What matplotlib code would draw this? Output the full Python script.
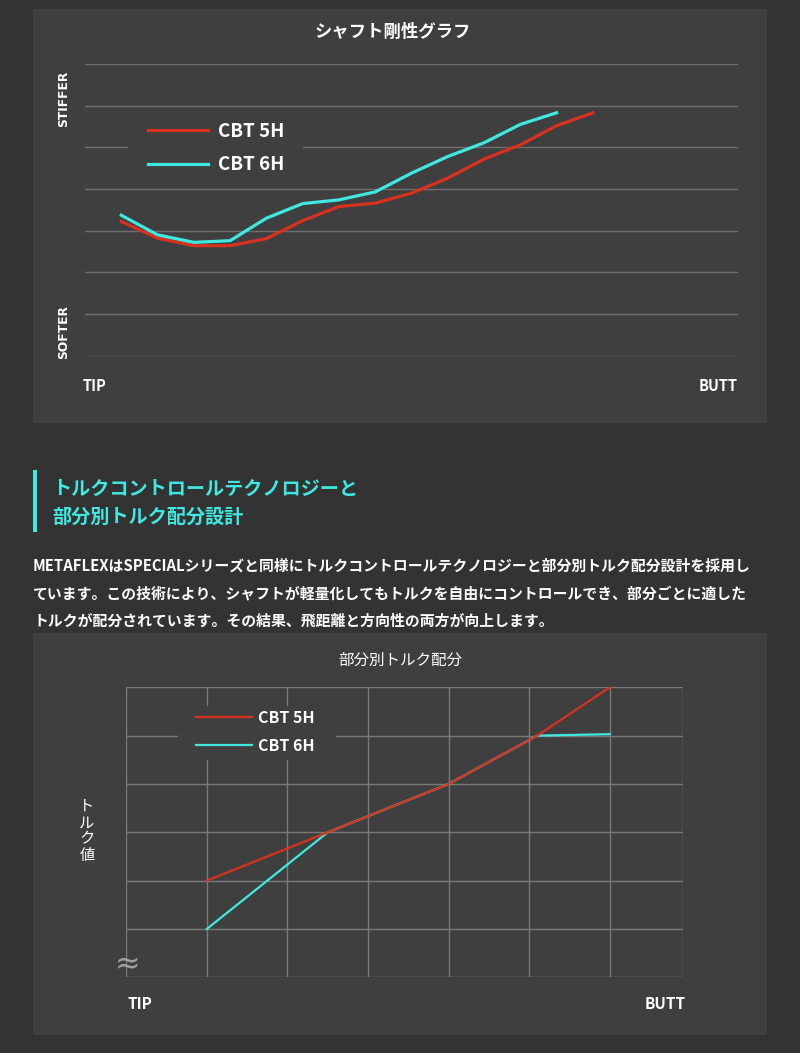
import matplotlib.pyplot as plt
from matplotlib.patches import Rectangle

plt.rcParams['font.family'] = ['Noto Sans CJK JP', 'DejaVu Sans']

# --- data -------------------------------------------------------------
stiff_pos = list(range(14))
stiff_5h = [3.22, 2.82, 2.64, 2.64, 2.81, 3.24, 3.58, 3.66, 3.90, 4.26, 4.72, 5.06, 5.52, 5.83]
stiff_6h = [3.37, 2.90, 2.72, 2.76, 3.30, 3.65, 3.74, 3.93, 4.38, 4.78, 5.11, 5.55, 5.83]

torque_pos = [1, 2.5, 4, 5.1, 6]
torque_5h = [2, 3, 4, 5, 6]
torque_6h = [1, 3, 4, 5, 5.03]

series_names = ['CBT 5H', 'CBT 6H']

heading = ['トルクコントロールテクノロジーと', '部分別トルク配分設計']
body = ['METAFLEXはSPECIALシリーズと同様にトルクコントロールテクノロジーと部分別トルク配分設計を採用し',
        'ています。この技術により、シャフトが軽量化してもトルクを自由にコントロールでき、部分ごとに適した',
        'トルクが配分されています。その結果、飛距離と方向性の両方が向上します。']

# --- style ------------------------------------------------------------
W, H = 800, 1053
PAGE = '#333333'
PANEL = '#3f3f3f'
RED = '#d8321e'
CYAN = '#3fe8e0'


def fx(x):
    return x / W


def fy(y):
    return 1 - y / H


def box(x0, y0, x1, y1):
    return [fx(x0), fy(y1), (x1 - x0) / W, (y1 - y0) / H]


def mask(ax, x0, y0, x1, y1):
    # panel-coloured block that hides the grid behind the legend
    ax.add_patch(Rectangle((fx(x0), fy(y1)), (x1 - x0) / W, (y1 - y0) / H,
                           transform=fig.transFigure, facecolor=PANEL,
                           edgecolor='none', zorder=2, clip_on=False))


fig = plt.figure(figsize=(W / 100, H / 100), dpi=100, facecolor=PAGE)

# panels
for (x0, y0, x1, y1) in [(33, 9, 767, 423), (33, 633, 767, 1035)]:
    fig.patches.append(Rectangle((fx(x0), fy(y1)), (x1 - x0) / W, (y1 - y0) / H,
                                 transform=fig.transFigure, facecolor=PANEL,
                                 edgecolor='none', zorder=-5))

# ---------------- top chart: stiffness ----------------
ax1 = fig.add_axes(box(85, 64, 738, 355.7))
ax1.set_facecolor('none')
ax1.set_xlim(-1, 17)
ax1.set_ylim(0, 7)
for v in range(8):
    ax1.axhline(v, color='#6e6e6e', lw=1, zorder=1)
ax1.plot(stiff_pos, stiff_5h, color=RED, lw=2.3, zorder=3, label=series_names[0])
ax1.plot(stiff_pos[:len(stiff_6h)], stiff_6h, color=CYAN, lw=2.3, zorder=3, label=series_names[1])
ax1.axis('off')
mask(ax1, 128, 112, 303, 182)
leg1 = ax1.legend(loc='upper left', bbox_to_anchor=(fx(148), fy(122)),
                  bbox_transform=fig.transFigure, frameon=False, borderpad=0,
                  borderaxespad=0, handlelength=3.2, handletextpad=0.55,
                  labelspacing=0.75, prop={'size': 13.5, 'weight': 'bold'})
for t in leg1.get_texts():
    t.set_color('white')
leg1.set_zorder(5)

fig.text(fx(393), fy(32), 'シャフト剛性グラフ', color='white', fontsize=12.5,
         fontweight='bold', ha='center', va='center')
fig.text(fx(64), fy(99), 'STIFFER', color='white', fontsize=8.8, fontweight='bold',
         rotation=90, ha='center', va='center', family='DejaVu Sans')
fig.text(fx(64), fy(332), 'SOFTER', color='white', fontsize=8.8, fontweight='bold',
         rotation=90, ha='center', va='center', family='DejaVu Sans')
fig.text(fx(83), fy(386), 'TIP', color='white', fontsize=10.5, fontweight='bold',
         ha='left', va='center')
fig.text(fx(738), fy(386), 'BUTT', color='white', fontsize=10.5, fontweight='bold',
         ha='right', va='center')

# ---------------- text section ----------------
fig.patches.append(Rectangle((fx(33), fy(532)), 4 / W, 62 / H, transform=fig.transFigure,
                             facecolor=CYAN, edgecolor='none'))
for i, line in enumerate(heading):
    fig.text(fx(52), fy(489 + i * 28), line, color=CYAN, fontsize=13.8,
             fontweight='bold', ha='left', va='center')
for i, line in enumerate(body):
    fig.text(fx(33), fy(566 + i * 27.5), line, color='white', fontsize=10.7,
             fontweight='bold', ha='left', va='center')

# ---------------- bottom chart: torque ----------------
ax2 = fig.add_axes(box(126.3, 687.3, 683, 977.3))
ax2.set_facecolor('none')
ax2.set_xlim(0, 6.91)
ax2.set_ylim(0, 6)
for v in range(7):
    ax2.axvline(v, color='#7a7a7a', lw=1, zorder=1)
    ax2.axhline(v, color='#7a7a7a', lw=1, zorder=1)
ax2.axvline(6.91, color='#7a7a7a', lw=1, zorder=1)
ax2.plot(torque_pos, torque_6h, color=CYAN, lw=1.6, zorder=3, label=series_names[1])
ax2.plot(torque_pos, torque_5h, color=RED, lw=1.6, zorder=4, label=series_names[0])
ax2.axis('off')
mask(ax2, 178, 706, 336, 760)
handles, labels = ax2.get_legend_handles_labels()
leg2 = ax2.legend(handles[::-1], labels[::-1], loc='upper left',
                  bbox_to_anchor=(fx(196), fy(710)), bbox_transform=fig.transFigure,
                  frameon=False, borderpad=0, borderaxespad=0, handlelength=3.5,
                  handletextpad=0.4, labelspacing=0.75,
                  prop={'size': 11.5, 'weight': 'bold'})
for t in leg2.get_texts():
    t.set_color('white')
leg2.set_zorder(5)

fig.text(fx(400), fy(660), '部分別トルク配分', color='white', fontsize=11.2,
         ha='center', va='center')
fig.text(fx(87), fy(831), 'ト\nル\nク\n値', color='white', fontsize=11,
         ha='center', va='center', linespacing=0.95)
fig.text(fx(128), fy(965), '≈', color='#a0a0a0', fontsize=22, ha='center', va='center',
         family='DejaVu Sans')
fig.text(fx(128), fy(1004), 'TIP', color='white', fontsize=11, fontweight='bold',
         ha='left', va='center')
fig.text(fx(686), fy(1004), 'BUTT', color='white', fontsize=11, fontweight='bold',
         ha='right', va='center')

fig.savefig('out.png', dpi=100, facecolor=PAGE)
